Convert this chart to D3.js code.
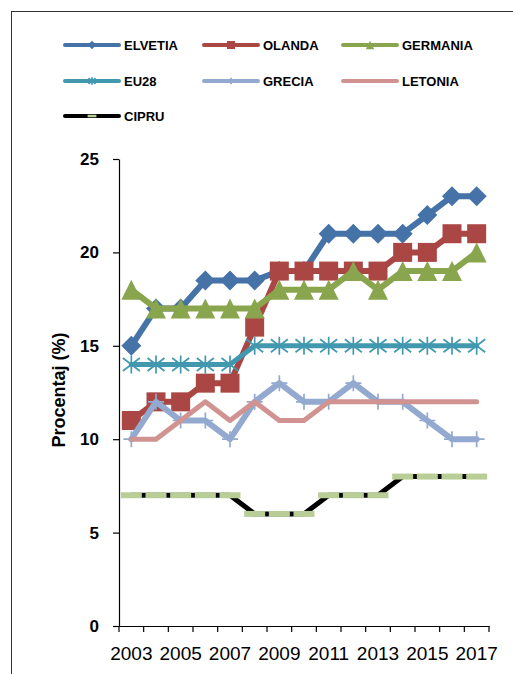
<!DOCTYPE html>
<html><head><meta charset="utf-8">
<script src="https://cdn.jsdelivr.net/npm/d3@7"></script>
<style>body{margin:0;background:#fff}</style>
</head><body>
<script>
// ---- data ----
const years = ["2003","2004","2005","2006","2007","2008","2009","2010","2011","2012","2013","2014","2015","2016","2017"];
const elvetia  = [15,17,17,18.5,18.5,18.5,19,19,21,21,21,21,22,23,23];
const olanda   = [11,12,12,13,13,16,19,19,19,19,19,20,20,21,21];
const germania = [18,17,17,17,17,17,18,18,18,19,18,19,19,19,20];
const eu28     = [14,14,14,14,14,15,15,15,15,15,15,15,15,15,15];
const grecia   = [10,12,11,11,10,12,13,12,12,13,12,12,11,10,10];
const letonia  = [10,10,11,12,11,12,11,11,12,12,12,12,12,12,12];
const cipru    = [7,7,7,7,7,6,6,6,7,7,7,8,8,8,8];
const seriesNames = ["ELVETIA","OLANDA","GERMANIA","EU28","GRECIA","LETONIA","CIPRU"];
const yTicks = [0,5,10,15,20,25];
const xTickLabels = ["2003","2005","2007","2009","2011","2013","2015","2017"];
const yTitle = "Procentaj (%)";

// ---- styles ----
const styles = [
  {color:"#4572A7", width:6,   marker:"diamond",  mcolor:"#4572A7"},
  {color:"#AA4643", width:6,   marker:"square",   mcolor:"#AA4643"},
  {color:"#89A54E", width:6,   marker:"triangle", mcolor:"#89A54E"},
  {color:"#4198AF", width:5,   marker:"star",     mcolor:"#4198AF"},
  {color:"#93A9CF", width:6,   marker:"plus",     mcolor:"#93A9CF"},
  {color:"#D19392", width:5,   marker:"none",     mcolor:"#D19392"},
  {color:"#000000", width:5,   marker:"dash",     mcolor:"#B9CD96"}
];
const allValues = [elvetia, olanda, germania, eu28, grecia, letonia, cipru];

const W = 513, H = 674;
const svg = d3.select("body").append("svg").attr("width", W).attr("height", H)
  .style("font-family", "'Liberation Sans', Arial, sans-serif");

svg.append("rect").attr("x", 11.5).attr("y", 11.5).attr("width", W + 20).attr("height", H + 20)
  .attr("fill", "#fff").attr("stroke", "#333").attr("stroke-width", 1);

const x = d3.scaleBand().domain(years).range([119, 489]);
const y = d3.scaleLinear().domain([0, 25]).range([626, 159]);
const cx = d => x(d) + x.bandwidth() / 2;

// markers
function markerPath(type, s) {
  switch (type) {
    case "diamond": { const r = 10 * s; return `M0,${-r}L${r},0L0,${r}L${-r},0Z`; }
    case "square": { const r = 9.5 * s; return `M${-r},${-r}H${r}V${r}H${-r}Z`; }
    case "triangle": { const w = 10 * s, h = 10 * s; return `M0,${-h}L${w},${h}L${-w},${h}Z`; }
    case "star": { const r = 9 * s; const dx = 8.5 * s, dy = 6.5 * s; return `M0,${-r}V${r}M${-dx},${-dy}L${dx},${dy}M${-dx},${dy}L${dx},${-dy}`; }
    case "plus": { const r = 8 * s; return `M0,${-r}V${r}M${-r},0H${r}`; }
    case "dash": { const w = 10.5 * s, h = 3 * s; return `M${-w},${-h}H${w}V${h}H${-w}Z`; }
  }
  return "";
}
function drawMarker(g, st, s) {
  if (st.marker === "none") return;
  const p = g.append("path").attr("d", markerPath(st.marker, s));
  if (st.marker === "star" || st.marker === "plus") {
    p.attr("fill", "none").attr("stroke", st.mcolor).attr("stroke-width", 1.7);
  } else {
    p.attr("fill", st.mcolor);
  }
}

// axes
const yAxis = svg.append("g").attr("transform", "translate(119,0)")
  .call(d3.axisLeft(y).tickValues(yTicks).tickSize(6).tickSizeOuter(0).tickPadding(14));
yAxis.selectAll("text").style("font-size", "17px").style("font-weight", "bold").attr("fill", "#000")
  .style("font-family", "'Liberation Sans', Arial, sans-serif");
yAxis.selectAll("line,path").attr("stroke", "#000").attr("stroke-width", 1.2);

const xAxis = svg.append("g").attr("transform", "translate(0,626)")
  .call(d3.axisBottom(x).tickSize(0).tickSizeOuter(0).tickPadding(21)
    .tickFormat(d => xTickLabels.includes(d) ? d : ""));
xAxis.selectAll("text").style("font-size", "19px").attr("fill", "#000")
  .style("font-family", "'Liberation Sans', Arial, sans-serif");
xAxis.selectAll("path").attr("stroke", "#000").attr("stroke-width", 1.2);
const bounds = years.map(d => x(d)).concat([x.range()[1]]);
xAxis.selectAll("line.bt").data(bounds).enter().append("line").attr("class", "bt")
  .attr("x1", d => d).attr("x2", d => d).attr("y1", 0).attr("y2", 6)
  .attr("stroke", "#000").attr("stroke-width", 1.2);

svg.append("text").attr("transform", "translate(65,390) rotate(-90)")
  .attr("text-anchor", "middle").style("font-size", "18px").style("font-weight", "bold")
  .text(yTitle);

// series
const line = d3.line().x(d => cx(d.year)).y(d => y(d.v));
seriesNames.forEach((name, i) => {
  const st = styles[i];
  const data = years.map((yr, j) => ({year: yr, v: allValues[i][j]}));
  const g = svg.append("g");
  g.append("path").attr("d", line(data)).attr("fill", "none")
    .attr("stroke", st.color).attr("stroke-width", st.width)
    .attr("stroke-linejoin", "round").attr("stroke-linecap", "round");
  data.forEach(d => {
    const mg = g.append("g").attr("transform", `translate(${cx(d.year)},${y(d.v)})`);
    drawMarker(mg, st, 1);
  });
});

// legend
const legCols = [65, 204, 343];
const legRows = [45, 81, 116];
seriesNames.forEach((name, i) => {
  const st = styles[i];
  const lx = legCols[i % 3], ly = legRows[Math.floor(i / 3)];
  const g = svg.append("g").attr("transform", `translate(${lx},${ly})`);
  g.append("line").attr("x1", 0).attr("x2", 54).attr("y1", 0).attr("y2", 0)
    .attr("stroke", st.color).attr("stroke-width", 4).attr("stroke-linecap", "round");
  const mg = g.append("g").attr("transform", "translate(27,0)");
  drawMarker(mg, st, 0.42);
  g.append("text").attr("x", 59).attr("y", 0).attr("dy", "0.36em")
    .style("font-size", "13px").style("font-weight", "bold").text(name);
});
</script>
</body></html>
